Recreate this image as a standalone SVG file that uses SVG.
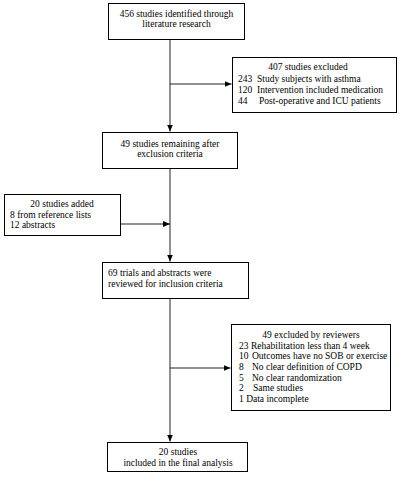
<svg xmlns="http://www.w3.org/2000/svg" width="400" height="477" viewBox="0 0 400 477">
<defs>
<style>
.box{fill:#fff;stroke:#000;stroke-width:1}
.t{font-family:"Liberation Serif","Times New Roman",serif;font-size:9.5px;fill:#000}
.c{text-anchor:middle}
.ln{stroke:#222;stroke-width:1;fill:none}
</style>
<marker id="ah" markerWidth="7" markerHeight="6" refX="7" refY="3" orient="auto" markerUnits="userSpaceOnUse">
<path d="M0,0 L7,3 L0,6 Z" fill="#000"/>
</marker>
</defs>
<rect width="400" height="477" fill="#fff"/>
<g id="connectors">
<line class="ln" x1="170" y1="40" x2="170" y2="131.5" marker-end="url(#ah)"/>
<line class="ln" x1="170" y1="84" x2="231.5" y2="84" marker-end="url(#ah)"/>
<line class="ln" x1="170" y1="169" x2="170" y2="261.5" marker-end="url(#ah)"/>
<line class="ln" x1="121" y1="224" x2="170" y2="224" marker-end="url(#ah)"/>
<line class="ln" x1="170" y1="299" x2="170" y2="441.5" marker-end="url(#ah)"/>
<line class="ln" x1="170" y1="368" x2="230.5" y2="368" marker-end="url(#ah)"/>
</g>
<g id="n1">
<rect class="box" x="108.5" y="3.5" width="136" height="36"/>
<text class="t c" x="176.5" y="16.5">456 studies identified through</text>
<text class="t c" x="176.5" y="27">literature research</text>
</g>
<g id="n2">
<rect class="box" x="232.5" y="57.5" width="164" height="55"/>
<text class="t c" x="308" y="69.5">407 studies excluded</text>
<text class="t" y="81.5"><tspan x="238">243</tspan><tspan x="257">Study subjects with asthma</tspan></text>
<text class="t" y="92.5"><tspan x="238">120</tspan><tspan x="257">Intervention included medication</tspan></text>
<text class="t" y="103.5"><tspan x="238">44</tspan><tspan x="259">Post-operative and ICU patients</tspan></text>
</g>
<g id="n3">
<rect class="box" x="102.5" y="132.5" width="135" height="36"/>
<text class="t c" x="170" y="146.5">49 studies remaining after</text>
<text class="t c" x="170" y="156.5">exclusion criteria</text>
</g>
<g id="n4">
<rect class="box" x="4.5" y="194.5" width="116" height="41"/>
<text class="t c" x="62" y="206.5">20 studies added</text>
<text class="t" x="10" y="217.5">8 from reference lists</text>
<text class="t" x="10" y="228">12 abstracts</text>
</g>
<g id="n5">
<rect class="box" x="102.5" y="262.5" width="146" height="36"/>
<text class="t" x="108" y="275.5">69 trials and abstracts were</text>
<text class="t" x="108" y="286.5">reviewed for inclusion criteria</text>
</g>
<g id="n6">
<rect class="box" x="231.5" y="324.5" width="159" height="86"/>
<text class="t c" x="311" y="337.5">49 excluded by reviewers</text>
<text class="t" y="348.5"><tspan x="239">23</tspan><tspan x="251">Rehabilitation less than 4 week</tspan></text>
<text class="t" y="358.8"><tspan x="239">10</tspan><tspan x="252">Outcomes have no SOB or exercise</tspan></text>
<text class="t" y="369.5"><tspan x="239">8</tspan><tspan x="252">No clear definition of COPD</tspan></text>
<text class="t" y="380.5"><tspan x="239">5</tspan><tspan x="252">No clear randomization</tspan></text>
<text class="t" y="391"><tspan x="239">2</tspan><tspan x="253">Same studies</tspan></text>
<text class="t" x="239" y="402">1 Data incomplete</text>
</g>
<g id="n7">
<rect class="box" x="107.5" y="442.5" width="140" height="29"/>
<text class="t c" x="178" y="454.5">20 studies</text>
<text class="t c" x="178" y="465.5">included in the final analysis</text>
</g>
</svg>
